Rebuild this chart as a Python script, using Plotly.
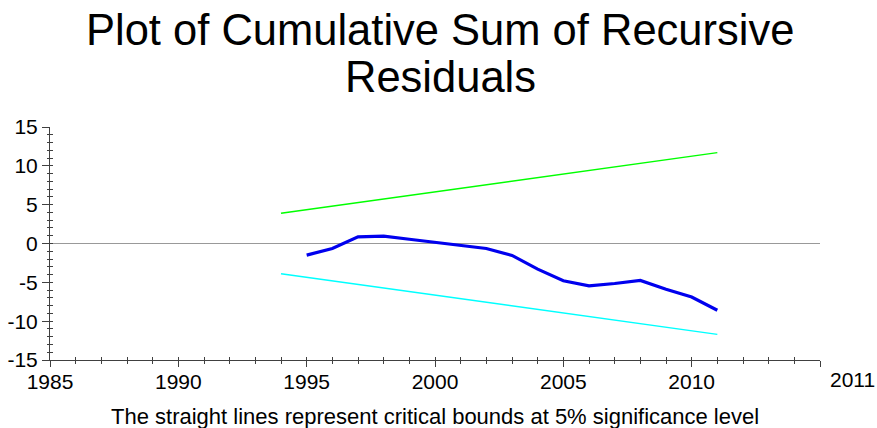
import plotly.graph_objects as go

years = list(range(1995, 2012))
cusum = [-1.5, -0.65, 0.86, 0.94, 0.55, 0.15, -0.3, -0.64, -1.54, -3.3,
         -4.8, -5.45, -5.15, -4.76, -5.9, -6.9, -8.6]
bound_years = [1994, 2011]
upper_bound = [3.9, 11.7]
lower_bound = [-3.9, -11.7]

x_tickvals = [1985, 1990, 1995, 2000, 2005, 2010, 2015]
x_ticktext = ["1985", "1990", "1995", "2000", "2005", "2010", ""]
y_tickvals = [-15, -10, -5, 0, 5, 10, 15]
y_ticktext = ["-15", "-10", "-5", "0", "5", "10", "15"]
title_lines = ["Plot of Cumulative Sum of Recursive", "Residuals"]
last_x_label = "2011"
footnote = "The straight lines represent critical bounds at 5% significance level"

FONT = "Liberation Sans, Arial, sans-serif"
AX = "#404040"

fig = go.Figure()
fig.add_trace(go.Scatter(x=bound_years, y=upper_bound, mode="lines",
                         line=dict(color="#00ff00", width=1.5), showlegend=False))
fig.add_trace(go.Scatter(x=bound_years, y=lower_bound, mode="lines",
                         line=dict(color="#00ffff", width=1.5), showlegend=False))
fig.add_trace(go.Scatter(x=years, y=cusum, mode="lines",
                         line=dict(color="#0000ee", width=3.2), showlegend=False))

overlay_x = dict(range=[1985, 2015], overlaying="x", side="bottom", automargin=False,
                 showgrid=False, zeroline=False, showline=False,
                 tickvals=x_tickvals, showticklabels=False, tickcolor=AX)

fig.update_layout(
    width=877, height=428,
    margin=dict(l=50, r=57, t=127, b=68, autoexpand=False),
    paper_bgcolor="white", plot_bgcolor="white",
    font=dict(family=FONT, color="black"),
    xaxis=dict(range=[1985, 2015], showgrid=False, zeroline=False, automargin=False,
               showline=True, linecolor=AX, linewidth=1,
               tickmode="array", tickvals=x_tickvals, ticktext=x_ticktext,
               ticks="outside", ticklen=3, tickcolor=AX, tickwidth=1,
               minor=dict(dtick=1, ticks="outside", ticklen=3, tickcolor=AX),
               tickfont=dict(size=21, family=FONT, color="black")),
    xaxis2=dict(overlay_x, ticks="inside", ticklen=3,
                minor=dict(dtick=1, ticks="inside", ticklen=3, tickcolor=AX)),
    xaxis3=dict(overlay_x, ticks="outside", ticklen=6),
    yaxis=dict(range=[-15, 15], showgrid=False, automargin=False,
               zeroline=True, zerolinecolor="#999999", zerolinewidth=1,
               showline=True, linecolor=AX, linewidth=1,
               tickmode="array", tickvals=y_tickvals, ticktext=y_ticktext,
               ticks="outside", ticklen=7, tickcolor=AX, tickwidth=1,
               minor=dict(dtick=1, ticks="outside", ticklen=2, tickcolor=AX),
               tickfont=dict(size=21, family=FONT, color="black")),
    yaxis2=dict(range=[-15, 15], overlaying="y", side="left", automargin=False,
                showgrid=False, zeroline=False, showline=False,
                tickvals=y_tickvals, showticklabels=False,
                ticks="inside", ticklen=3, tickcolor=AX,
                minor=dict(dtick=1, ticks="inside", ticklen=3, tickcolor=AX)),
)
# invisible traces to activate the overlay axes
fig.add_trace(go.Scatter(x=[None], y=[None], xaxis="x2", yaxis="y2",
                         showlegend=False, hoverinfo="skip"))
fig.add_trace(go.Scatter(x=[None], y=[None], xaxis="x3", yaxis="y2",
                         showlegend=False, hoverinfo="skip"))

# title lines (placed as annotations for tight line spacing)
title_y = [1.418, 1.213]
for txt, ty in zip(title_lines, title_y):
    fig.add_annotation(text=txt, x=0.5, xref="paper", xshift=5, y=ty, yref="paper",
                       xanchor="center", yanchor="middle", showarrow=False,
                       font=dict(size=43.5, family=FONT, color="black"))

fig.add_annotation(text=last_x_label, x=2015, y=-15, xref="x", yref="y",
                   xanchor="left", yanchor="top", xshift=8, yshift=-6,
                   showarrow=False, font=dict(size=21, family=FONT, color="black"))
fig.add_annotation(text=footnote,
                   x=0.5, y=-0.18, xref="paper", yref="paper", xshift=0,
                   xanchor="center", yanchor="top", showarrow=False,
                   font=dict(size=22, family=FONT, color="black"))

fig.write_html("out.html")
